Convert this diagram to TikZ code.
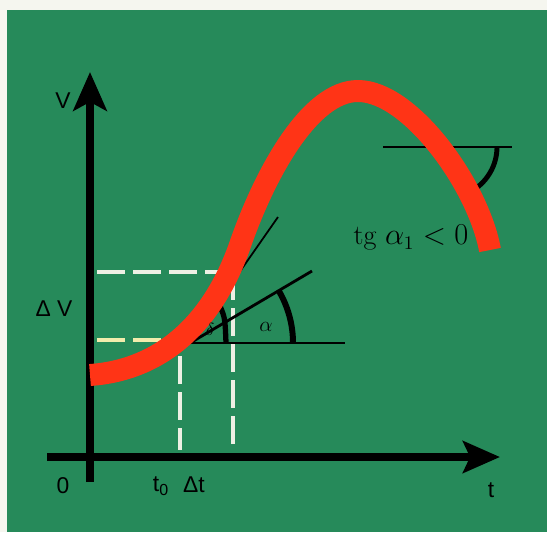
\documentclass[tikz,border=0pt]{standalone}
\usepackage{fontspec}
\setsansfont{Liberation Sans}
\usetikzlibrary{arrows.meta}
\definecolor{board}{RGB}{38,138,90}
\definecolor{chalk}{RGB}{238,240,228}
\definecolor{chalkyel}{RGB}{242,236,172}
\definecolor{paint}{RGB}{255,52,22}
\tikzset{
    axis/.style={
        line width=4.5pt,
        -{Stealth[length=22pt,width=19pt,inset=5pt]}
    },
    guide/.style={
        chalk,
        line width=2.8pt,
        dash pattern=on 16pt off 4.5pt
    },
    ink/.style={black, line width=1.6pt},
    hair/.style={black, line width=1pt},
    anglemark/.style={black, line width=3.4pt},
    lbl/.style={font=\sffamily\fontsize{13}{15}\selectfont, inner sep=0pt},
    curve/.style={paint, line width=12.5pt}
}

\begin{document}
\begin{tikzpicture}[x=0.02cm, y=-0.02cm]
        \useasboundingbox (0,0) rectangle (547,532);
        \fill[chalk!60!white] (0,0) rectangle (547,532);
        \fill[board] (7,10) rectangle (547,532);
        % chalk guides
        \coordinate (h1a) at (97,272);
        \coordinate (h1b) at (233,272);
        \coordinate (v1b) at (233,450);
        \coordinate (h2a) at (97,340);
        \coordinate (h2b) at (180,340);
        \coordinate (v2a) at (180,356);
        \coordinate (v2b) at (180,450);
        \draw[guide] (h1a) -- (h1b);
        \draw[guide] (h1b) -- (v1b);
        \draw[guide, chalkyel] (h2a) -- (h2b);
        \draw[guide] (v2a) -- (v2b);
        % axes
        \coordinate (ybot) at (90,482);
        \coordinate (ytop) at (90,72);
        \coordinate (xleft) at (47,457);
        \coordinate (xright) at (500,457);
        \draw[axis] (ybot) -- (ytop);
        \draw[axis, -{Stealth[length=21pt,width=18pt,inset=4pt]}] (xleft) -- (xright);
        % angles at t0
        \coordinate (V) at (190,343);
        \coordinate (baseend) at (345,343);
        \coordinate (secend) at (312,271);
        \coordinate (tanend) at (278,217);
        \coordinate (mktop) at (220,306);
        \coordinate (mkbot) at (226,343);
        \draw[ink] (V) -- (baseend);
        \draw[ink] (V) -- (secend);
        \draw[hair] (V) -- (tanend);
        \draw[anglemark] ([shift={(103,0)}]V) arc[start angle=0, end angle=-30.5, radius=103];
        \draw[anglemark, line width=3pt] (mktop) .. controls (225,318) .. (mkbot);
        % angle after the peak
        \coordinate (P1) at (446,147);
        \coordinate (hl) at (383,147);
        \coordinate (hr) at (512,147);
        \draw[hair] (hl) -- (hr);
        \draw[anglemark, line width=2.8pt] ([shift={(51,0)}]P1) arc[start angle=0, end angle=58, radius=51];
        % v(t)
        \coordinate (vstart) at (90,375);
        \coordinate (vmid) at (240,245);
        \coordinate (vpeak) at (358,91);
        \coordinate (vend) at (490,250);
        \draw[curve] (vstart) .. controls (160,370) and (212,325) .. (vmid)
            .. controls (265,173) and (310,91) .. (vpeak)
            .. controls (410,91) and (478,185) .. (vend);
        % labels
        \node[lbl] (vlab) at (63,101) {V};
        \node[lbl] (dv) at (54,309) {Δ V};
        \node[lbl] (zero) at (63,486) {0};
        \node[lbl] (t0) at (161,486) {t\textsubscript{0}};
        \node[lbl] (dt) at (194,485) {Δt};
        \node[lbl] (tlab) at (491,490) {t};
        \node[inner sep=0pt] (alab) at (266,327) {\fontsize{13}{15}\selectfont$\alpha$};
        \node[inner sep=0pt] (dlab) at (210,329) {\fontsize{10}{12}\selectfont$\delta$};
        \node[inner sep=0pt] (tglab) at (411,238) {\fontsize{16}{19}\selectfont tg $\alpha_{1}<0$};
    \end{tikzpicture}
\end{document}
